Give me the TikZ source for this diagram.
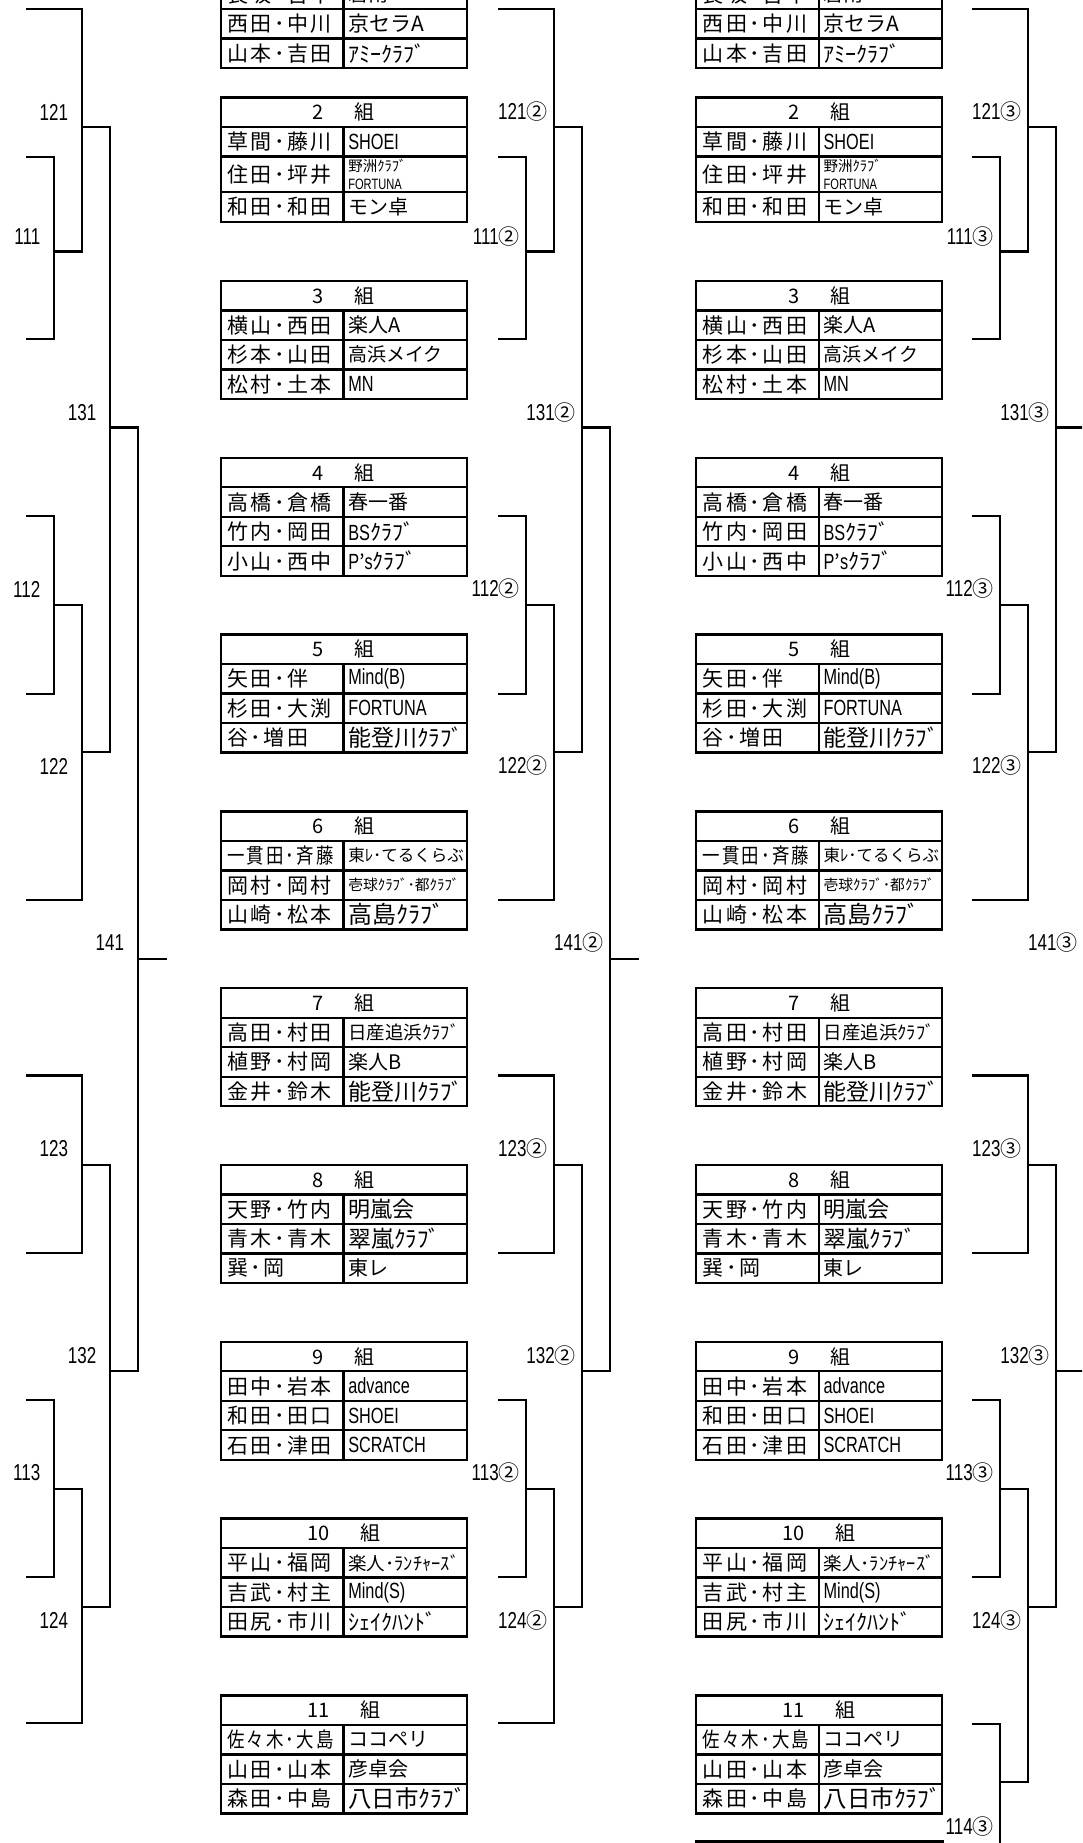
\documentclass[tikz,border=0pt]{standalone}
\usepackage{fontspec}
\setmainfont{Noto Sans CJK JP}
\newfontfamily\namefont[LetterSpace=12]{Noto Sans CJK JP}
\newfontfamily\narrowfont[FakeStretch=0.74]{Liberation Sans}

\newcommand{\fs}[1]{\fontsize{#1}{#1}\selectfont}
\newcommand{\lat}{\fontsize{22}{22}\narrowfont}
\newcommand{\maru}[1]{{\normalfont\fontsize{21}{21}\selectfont #1}}
\newcommand{\narrowname}[1]{\scalebox{0.83}[1]{#1}}

\tikzset{
  rule/.style={line width=2.2pt},
  boxline/.style={line width=2.3pt},
  roundlabel/.style={anchor=east, inner sep=0pt, font=\fontsize{23}{23}\narrowfont},
  teamname/.style={anchor=west, inner sep=0pt, font=\fontsize{21}{21}\namefont},
  clubname/.style={anchor=west, inner sep=0pt, align=left, font=\fs{20}},
  kumihead/.style={inner sep=0pt, font=\fs{20}},
}

% one group box: #1 top, #2 height of 2nd row, #3 group, #4-#9 pairs and clubs
\newcommand{\kumi}[9]{%
  \pgfmathsetmacro\ya{#1+29.5}%
  \pgfmathsetmacro\yb{\ya+29.5}%
  \pgfmathsetmacro\yc{\yb+#2}%
  \pgfmathsetmacro\yd{\yc+29.5}%
  \draw[boxline] (0,#1) rectangle (246.3,\yd);
  \draw[boxline] (0,\ya) -- (246.3,\ya) (0,\yb) -- (246.3,\yb) (0,\yc) -- (246.3,\yc)
    (122.9,\ya) -- (122.9,\yd);
  \node[kumihead] (\pfx h#3) at (123.15,{(#1+\ya)/2}) {#3\hspace{31pt}組};
  \node[teamname] (\pfx p#3a) at (6.5,{(\ya+\yb)/2}) {#4};
  \node[clubname] (\pfx c#3a) at (127.4,{(\ya+\yb)/2}) {#5};
  \node[teamname] (\pfx p#3b) at (6.5,{(\yb+\yc)/2}) {#6};
  \node[clubname] (\pfx c#3b) at (127.4,{(\yb+\yc)/2}) {#7};
  \node[teamname] (\pfx p#3c) at (6.5,{(\yc+\yd)/2}) {#8};
  \node[clubname] (\pfx c#3c) at (127.4,{(\yc+\yd)/2}) {#9};
}

\newcommand{\allkumi}{%
\kumi{-50}{29.5}{1}{長坂･吉中}{碧南}{西田･中川}{\fs{21}京セラA}{山本･吉田}{\fs{22}ｱﾐｰｸﾗﾌﾞ}
\kumi{97.5}{35.7}{2}{草間･藤川}{\lat SHOEI}{住田･坪井}{{\fontsize{14.5}{17}\selectfont 野洲ｸﾗﾌﾞ}\\[-1.5pt]{\fontsize{15}{17}\narrowfont FORTUNA}}{和田･和田}{モン卓}
\kumi{281}{29.5}{3}{横山･西田}{楽人A}{杉本･山田}{\fs{19}高浜メイク}{松村･土本}{\lat MN}
\kumi{457.8}{29.5}{4}{高橋･倉橋}{春一番}{竹内･岡田}{{\lat BS}\fs{22}ｸﾗﾌﾞ}{小山･西中}{{\lat P}{\fs{20}’}{\lat s}\fs{22}ｸﾗﾌﾞ}
\kumi{634.6}{29.5}{5}{矢田･伴}{\lat Mind(B)}{杉田･大渕}{\lat FORTUNA}{谷･増田}{\fs{23}能登川ｸﾗﾌﾞ}
\kumi{811.4}{29.5}{6}{\narrowname{一貫田･斉藤}}{\fs{16.5}東ﾚ･てるくらぶ}{岡村･岡村}{\fs{14.8}壱球ｸﾗﾌﾞ･都ｸﾗﾌﾞ}{山崎･松本}{\fs{24}高島ｸﾗﾌﾞ}
\kumi{988.2}{29.5}{7}{高田･村田}{\fs{18.5}日産追浜ｸﾗﾌﾞ}{植野･村岡}{楽人B}{金井･鈴木}{\fs{23}能登川ｸﾗﾌﾞ}
\kumi{1165}{29.5}{8}{天野･竹内}{\fs{22}明嵐会}{青木･青木}{\fs{23}翠嵐ｸﾗﾌﾞ}{巽･岡}{東レ}
\kumi{1341.8}{29.5}{9}{田中･岩本}{\lat advance}{和田･田口}{\lat SHOEI}{石田･津田}{\lat SCRATCH}
\kumi{1518.6}{29.5}{10}{平山･福岡}{\fs{18.5}楽人･ﾗﾝﾁｬｰｽﾞ}{吉武･村主}{\lat Mind(S)}{田尻･市川}{\fs{22}ｼｪｲｸﾊﾝﾄﾞ}
\kumi{1695.4}{29.5}{11}{\narrowname{佐々木･大島}}{ココペリ}{山田･山本}{彦卓会}{森田･中島}{\fs{23.5}八日市ｸﾗﾌﾞ}
}

\begin{document}
\begin{tikzpicture}[x=1pt,y=-1pt]
\fill[white] (0,0) rectangle (1082,1843);
\useasboundingbox (0,0) rectangle (1082,1843);
\clip (0,0) rectangle (1082,1843);

% group boxes, two pages side by side
\foreach \bx/\pfx in {220.7/L,696/R} {
  \begin{scope}[shift={(\bx,0)}]
    \allkumi
  \end{scope}
}
\draw[boxline] (696,1841.5) rectangle (942.5,1960);

% brackets
\foreach \dx/\sfx/\gp in {0/{}/13.5, 472/{\maru{②}}/6, 946/{\maru{③}}/6} {
  \begin{scope}[shift={(\dx,0)}]
    \draw[rule] (26,8.7) -| (81.7,251.5) -- (54,251.5);
    \draw[rule] (26,157) -| (54,339) -- (26,339);
    \draw[rule] (81.7,127.3) -| (110,751.8) -- (81.7,751.8);
    \draw[rule] (26,516) -| (54,694) -- (26,694);
    \draw[rule] (54,605) -| (81.7,900) -- (26,900);
    \draw[rule] (110,427.4) -| (137.7,1371) -- (110,1371);
    \draw[rule] (137.7,959) -- (166.7,959);
    \draw[rule] (26,1075.5) -| (81.7,1252.6) -- (26,1252.6);
    \draw[rule] (81.7,1165) -| (110,1606.6) -- (81.7,1606.6);
    \draw[rule] (26,1400) -| (54,1577) -- (26,1577);
    \ifnum\dx=946
      \draw[rule] (54,1489) -| (81.7,1782) -- (54,1782);
      \draw[rule] (26,1723.8) -| (54,1860);
      \node[roundlabel] (r114-\dx) at ({54-\gp},1826) {114\sfx};
    \else
      \draw[rule] (54,1489) -| (81.7,1723) -- (26,1723);
    \fi
    \node[roundlabel] (r121-\dx) at ({81.7-\gp},112) {121\sfx};
    \node[roundlabel] (r111-\dx) at ({54-\gp},236.5) {111\sfx};
    \node[roundlabel] (r131-\dx) at ({110-\gp},413) {131\sfx};
    \node[roundlabel] (r112-\dx) at ({54-\gp},589) {112\sfx};
    \node[roundlabel] (r122-\dx) at ({81.7-\gp},766) {122\sfx};
    \node[roundlabel] (r141-\dx) at ({137.7-\gp},943) {141\sfx};
    \node[roundlabel] (r123-\dx) at ({81.7-\gp},1149) {123\sfx};
    \node[roundlabel] (r132-\dx) at ({110-\gp},1356) {132\sfx};
    \node[roundlabel] (r113-\dx) at ({54-\gp},1473) {113\sfx};
    \node[roundlabel] (r124-\dx) at ({81.7-\gp},1620.5) {124\sfx};
  \end{scope}
}
\end{tikzpicture}
\end{document}
